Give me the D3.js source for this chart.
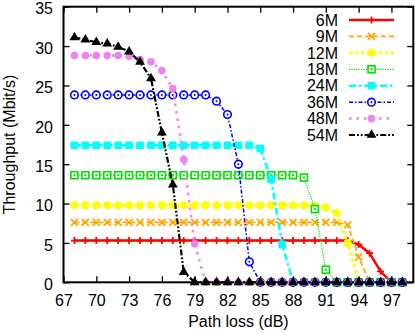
<!DOCTYPE html>
<html>
<head>
<meta charset="utf-8">
<script src="https://cdn.jsdelivr.net/npm/d3@7"></script>
<style>
  body { margin: 0; background: #fff; }
  svg { display: block; font-family: "Liberation Sans", Arial, sans-serif; }
</style>
</head>
<body>
<div id="chart"></div>
<script>
// x values (path loss, dB)
var pathLoss = [68,69,70,71,72,73,74,75,76,77,78,79,80,81,82,83,84,85,86,87,88,89,90,91,92,93,94,95,96,97,98];

// throughput per rate (Mbit/s)
var tp6M  = [5.3,5.3,5.3,5.3,5.3,5.3,5.3,5.3,5.3,5.3,5.3,5.3,5.3,5.3,5.3,5.3,5.3,5.3,5.3,5.3,5.3,5.3,5.3,5.3,5.3,5.3,4.8,3.7,1.4,0,0];
var tp9M  = [7.6,7.6,7.6,7.6,7.6,7.6,7.6,7.6,7.6,7.6,7.6,7.6,7.6,7.6,7.6,7.6,7.6,7.6,7.6,7.6,7.6,7.6,7.6,7.6,7.6,7.3,3.2,0,0,0,0];
var tp12M = [9.8,9.8,9.8,9.8,9.8,9.8,9.8,9.8,9.8,9.8,9.8,9.8,9.8,9.8,9.8,9.8,9.8,9.8,9.8,9.8,9.8,9.8,9.7,9.5,8.8,5.0,0,0,0,0,0];
var tp18M = [13.6,13.6,13.6,13.6,13.6,13.6,13.6,13.6,13.6,13.6,13.6,13.6,13.6,13.6,13.6,13.6,13.6,13.6,13.6,13.6,13.6,13.3,9.3,1.6,0,0,0,0,0,0,0];
var tp24M = [17.4,17.4,17.4,17.4,17.4,17.4,17.4,17.4,17.4,17.4,17.4,17.4,17.4,17.4,17.4,17.4,17.4,17.0,13.1,4.8,0,0,0,0,0,0,0,0,0,0,0];
var tp36M = [23.8,23.8,23.8,23.8,23.8,23.8,23.8,23.8,23.8,23.8,23.8,23.8,23.8,23.0,21.3,15.0,2.6,0,0,0,0,0,0,0,0,0,0,0,0,0,0];
var tp48M = [28.8,28.8,28.8,28.8,28.8,28.7,28.3,28.0,26.9,24.6,15.6,4.9,0,0,0,0,0,0,0,0,0,0,0,0,0,0,0,0,0,0,0];
var tp54M = [31.1,30.8,30.5,30.3,29.9,29.3,28.0,25.9,19.0,12.4,1.3,0,0,0,0,0,0,0,0,0,0,0,0,0,0,0,0,0,0,0,0];

var seriesNames = ["6M","9M","12M","18M","24M","36M","48M","54M"];
var seriesValues = [tp6M, tp9M, tp12M, tp18M, tp24M, tp36M, tp48M, tp54M];

var xTicks = [67,70,73,76,79,82,85,88,91,94,97];
var yTicks = [0,5,10,15,20,25,30,35];

// look of each series, same order as seriesNames
var styles = [
  {color: "#ff0000", width: 2.5, dash: null,            marker: "plus"},
  {color: "#ffa500", width: 1.8, dash: "5,3",           marker: "cross"},
  {color: "#ffff00", width: 3,   dash: "3,3",           marker: "star"},
  {color: "#00e000", width: 1.2, dash: "1.2,1.2",       marker: "openSquare"},
  {color: "#00ffff", width: 2.5, dash: "7,3,2.5,3",     marker: "square"},
  {color: "#0000ff", width: 1.5, dash: "4,2,1.5,2",     marker: "openCircle"},
  {color: "#ee82ee", width: 2.5, dash: "2.5,5",         marker: "circle"},
  {color: "#000000", width: 2.2, dash: "6,2,1.8,2,1.8,2", marker: "triangle"}
];

var W = 415, H = 333;
var margin = {top: 6.7, right: 1.7, bottom: 50.7, left: 63.5};
var width  = W - margin.left - margin.right;
var height = H - margin.top - margin.bottom;

var svg = d3.select("#chart").append("svg")
  .attr("width", W)
  .attr("height", H);

var g = svg.append("g")
  .attr("transform", "translate(" + margin.left + "," + margin.top + ")");

var x = d3.scaleLinear().domain([67, 99]).range([0, width]);
var y = d3.scaleLinear().domain([0, 35]).range([height, 0]);

// axes with inward ticks (mirrored on top and right)
var xAxis = g.append("g")
  .attr("transform", "translate(0," + height + ")")
  .call(d3.axisBottom(x).tickValues(xTicks).tickSizeInner(-6).tickSizeOuter(0).tickPadding(12));
var yAxis = g.append("g")
  .call(d3.axisLeft(y).tickValues(yTicks).tickSizeInner(-6).tickSizeOuter(0).tickPadding(10.5));
var topAxis = g.append("g")
  .call(d3.axisTop(x).tickValues(xTicks).tickSizeInner(-6).tickSizeOuter(0).tickFormat(""));
var rightAxis = g.append("g")
  .attr("transform", "translate(" + width + ",0)")
  .call(d3.axisRight(y).tickValues(yTicks).tickSizeInner(-6).tickSizeOuter(0).tickFormat(""));

[xAxis, yAxis, topAxis, rightAxis].forEach(function(a) {
  a.select(".domain").remove();
  a.selectAll(".tick line").attr("stroke", "#000").attr("stroke-width", 1.3);
  a.selectAll(".tick text").attr("fill", "#000").style("font-size", "16px")
    .style("font-family", "'Liberation Sans', Arial, sans-serif");
});
// y labels sit a touch below their ticks in the original
yAxis.selectAll(".tick text").attr("dy", "0.45em");

// plot border
g.append("rect")
  .attr("width", width)
  .attr("height", height)
  .attr("fill", "none")
  .attr("stroke", "#000")
  .attr("stroke-width", 2);

// axis titles
svg.append("text")
  .attr("x", margin.left + width / 2)
  .attr("y", 327)
  .attr("text-anchor", "middle")
  .style("font-size", "16px")
  .text("Path loss (dB)");

svg.append("text")
  .attr("transform", "translate(15," + (margin.top + height / 2) + ") rotate(-90)")
  .attr("text-anchor", "middle")
  .style("font-size", "16px")
  .text("Throughput (Mbit/s)");

// marker drawing
function drawMarker(sel, kind, color) {
  if (kind === "plus") {
    sel.append("path").attr("d", "M-3.5,0H3.5M0,-3.5V3.5")
      .attr("stroke", color).attr("stroke-width", 1.8).attr("fill", "none");
  } else if (kind === "cross") {
    sel.append("path").attr("d", "M-3.5,-3.5L3.5,3.5M-3.5,3.5L3.5,-3.5")
      .attr("stroke", color).attr("stroke-width", 1.8).attr("fill", "none");
  } else if (kind === "star") {
    sel.append("path").attr("d", "M-4,0H4M0,-4V4M-3,-3L3,3M-3,3L3,-3")
      .attr("stroke", color).attr("stroke-width", 2.4).attr("fill", "none");
  } else if (kind === "openSquare") {
    sel.append("rect").attr("x", -3.5).attr("y", -3.5).attr("width", 7).attr("height", 7)
      .attr("stroke", color).attr("stroke-width", 1.6).attr("fill", "#fff");
    sel.append("rect").attr("x", -1).attr("y", -1).attr("width", 2).attr("height", 2)
      .attr("fill", color);
  } else if (kind === "square") {
    sel.append("rect").attr("x", -3.8).attr("y", -3.8).attr("width", 7.6).attr("height", 7.6)
      .attr("fill", color);
  } else if (kind === "openCircle") {
    sel.append("circle").attr("r", 3.8)
      .attr("stroke", color).attr("stroke-width", 1.6).attr("fill", "#fff");
    sel.append("circle").attr("r", 1).attr("fill", color);
  } else if (kind === "circle") {
    sel.append("circle").attr("r", 3.8).attr("fill", color);
  } else if (kind === "triangle") {
    sel.append("path").attr("d", d3.symbol().type(d3.symbolTriangle).size(42))
      .attr("fill", color);
  }
}

var line = d3.line()
  .x(function(d) { return x(d.x); })
  .y(function(d) { return y(d.y); });

seriesNames.forEach(function(name, i) {
  var st = styles[i];
  var pts = pathLoss.map(function(px, j) { return {x: px, y: seriesValues[i][j]}; });

  g.append("path")
    .datum(pts)
    .attr("d", line)
    .attr("fill", "none")
    .attr("stroke", st.color)
    .attr("stroke-width", st.width)
    .attr("stroke-dasharray", st.dash);

  g.selectAll(".pt" + i)
    .data(pts)
    .enter().append("g")
    .attr("class", "pt" + i)
    .attr("transform", function(d) { return "translate(" + x(d.x) + "," + y(d.y) + ")"; })
    .each(function() { drawMarker(d3.select(this), st.marker, st.color); });
});

// legend
var legend = svg.append("g");
seriesNames.forEach(function(name, i) {
  var st = styles[i];
  var ly = 20 + i * 16.43;
  legend.append("text")
    .attr("x", 338)
    .attr("y", ly)
    .attr("dy", "0.36em")
    .attr("text-anchor", "end")
    .style("font-size", "16px")
    .text(name);
  legend.append("line")
    .attr("x1", 349).attr("x2", 394)
    .attr("y1", ly).attr("y2", ly)
    .attr("stroke", st.color)
    .attr("stroke-width", st.width)
    .attr("stroke-dasharray", st.dash);
  var m = legend.append("g").attr("transform", "translate(371.5," + ly + ")");
  drawMarker(m, st.marker, st.color);
});
</script>
</body>
</html>
